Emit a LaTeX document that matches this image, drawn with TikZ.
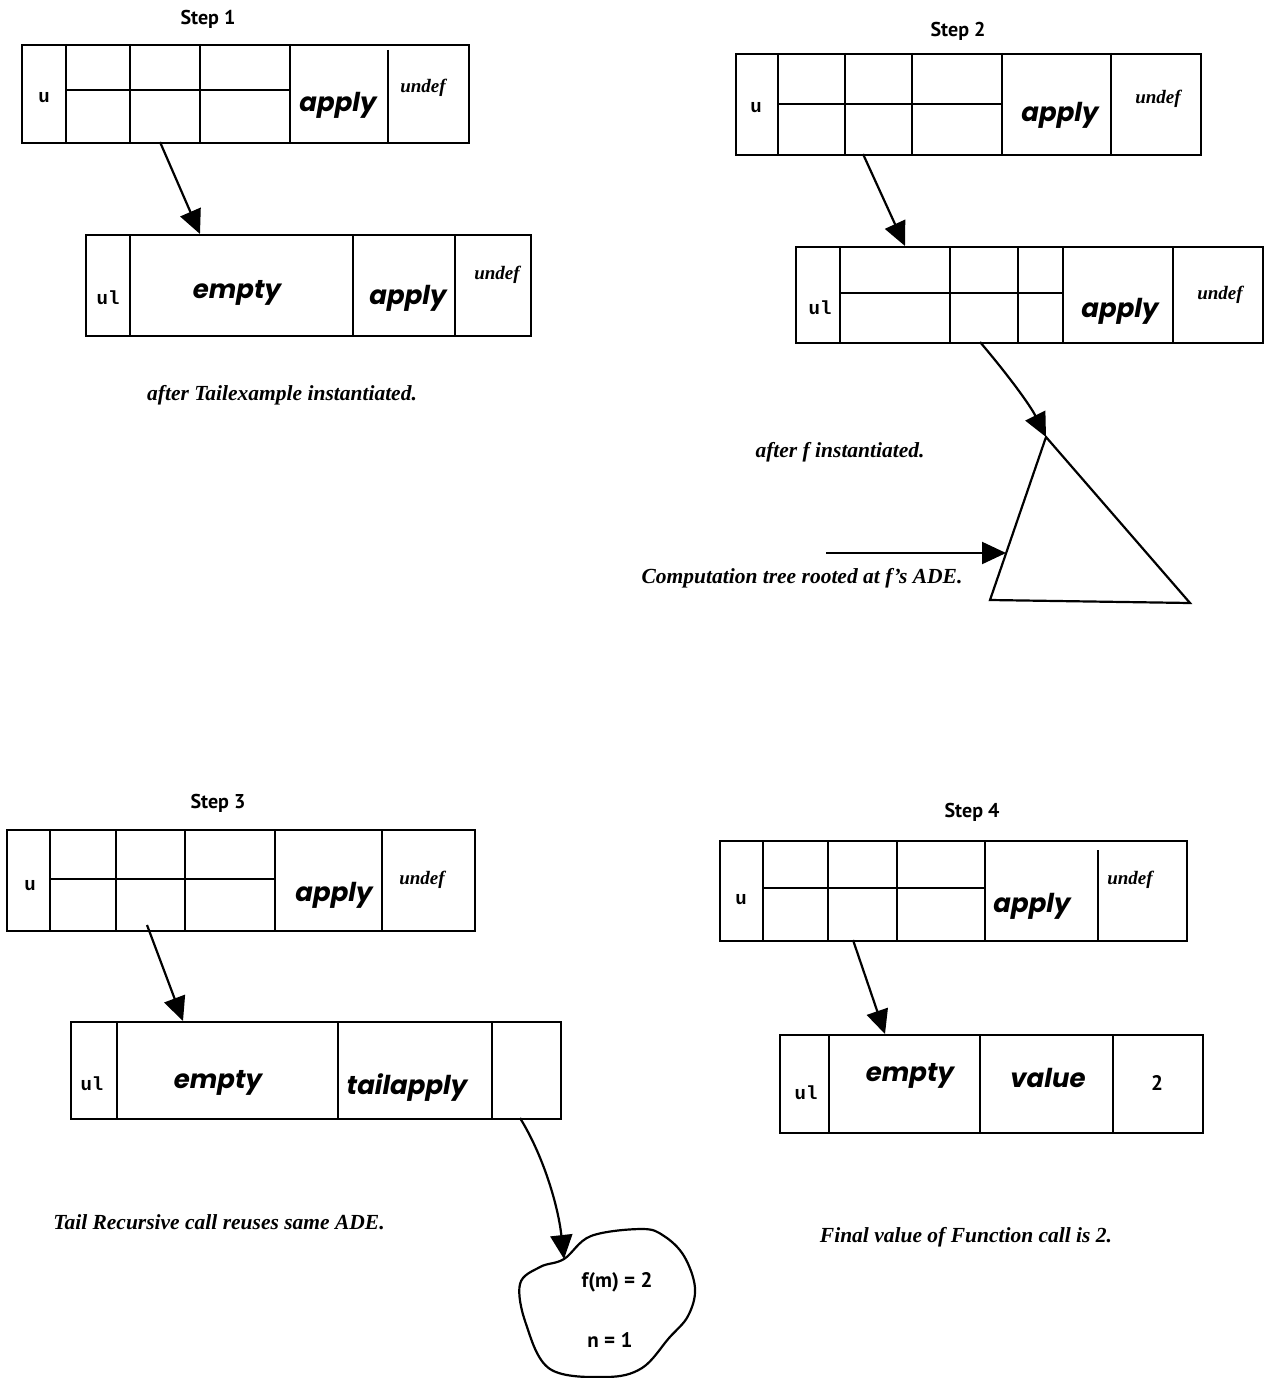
\documentclass[tikz,border=0pt]{standalone}
\usepackage{fontspec}
\setmainfont{Liberation Serif}
\newfontfamily\scrf{Poppins}
\newfontfamily\labf{PT Sans}
\newfontfamily\monof{Liberation Mono}
\usetikzlibrary{arrows.meta}
\begin{document}
\begin{tikzpicture}[x=1pt,y=-1pt,
  ln/.style={line width=2.2pt},
  rec/.style={draw, line width=2.2pt, inner sep=0pt, anchor=north west},
  arr/.style={line width=2.2pt, -{Triangle[width=22pt,length=24pt]}},
  big/.style={font=\scrf\fontsize{26}{26}\selectfont\bfseries\itshape, inner sep=0pt},
  und/.style={font=\fontsize{19}{19}\selectfont\bfseries\itshape, inner sep=0pt},
  var/.style={font=\monof\fontsize{19}{19}\selectfont\bfseries, inner sep=0pt},
  steplbl/.style={font=\labf\fontsize{20}{20}\selectfont\bfseries, inner sep=0pt},
  captxt/.style={font=\fontsize{21.5}{21.5}\selectfont\bfseries\itshape, inner sep=0pt},
  small/.style={font=\labf\fontsize{21}{21}\selectfont\bfseries, inner sep=0pt}
]
\useasboundingbox (0,0) rectangle (1269,1378);

%%%%%%%% Step 1
\node[steplbl] (l1) at (208,19) {Step 1};
\node[rec, minimum width=447pt, minimum height=98pt] (s1a) at (21,44) {};
\draw[ln] (66,44) -- (66,142) (130,44) -- (130,142) (200,44) -- (200,142)
          (290,44) -- (290,142) (388,50) -- (388,142) (66,90) -- (290,90);
\node[var] (s1au) at (44,98) {u};
\node[big] (s1aap) at (338,105) {apply};
\node[und] (s1aun) at (423,88) {undef};
\node[rec, minimum width=445pt, minimum height=101pt] (s1b) at (85,234) {};
\draw[ln] (130,234) -- (130,335) (353,234) -- (353,335) (455,234) -- (455,335);
\node[var] (s1bu) at (108,298) {ul};
\node[big] (s1bem) at (237,293) {empty};
\node[big] (s1bap) at (408,298) {apply};
\node[und] (s1bun) at (497,275) {undef};
\coordinate (s1f) at (160,142);
\coordinate (s1t) at (200,234);
\draw[arr] (s1f) -- (s1t);
\node[captxt] (c1) at (282,395) {after Tailexample instantiated.};

%%%%%%%% Step 2
\node[steplbl] (l2) at (958,31) {Step 2};
\node[rec, minimum width=465pt, minimum height=101pt] (s2a) at (735,53) {};
\draw[ln] (778,53) -- (778,154) (845,53) -- (845,154) (912,53) -- (912,154)
          (1002,53) -- (1002,154) (1111,53) -- (1111,154) (778,104) -- (1002,104);
\node[var] (s2au) at (756,108) {u};
\node[big] (s2aap) at (1060,115) {apply};
\node[und] (s2aun) at (1158,99) {undef};
\node[rec, minimum width=467pt, minimum height=96pt] (s2b) at (795,246) {};
\draw[ln] (840,246) -- (840,342) (950,246) -- (950,342) (1018,246) -- (1018,342)
          (1063,246) -- (1063,342) (1173,246) -- (1173,342) (840,293) -- (1063,293);
\node[var] (s2bu) at (820,308) {ul};
\node[big] (s2bap) at (1120,311) {apply};
\node[und] (s2bun) at (1220,295) {undef};
\coordinate (s2f) at (863,154);
\coordinate (s2t) at (905,246);
\draw[arr] (s2f) -- (s2t);
\coordinate (tA) at (1046,437);
\coordinate (tB) at (990,600);
\coordinate (tC) at (1190,603);
\draw[ln, line join=miter] (tA) -- (tB) -- (tC) -- cycle;
\coordinate (s2g) at (980,342);
\draw[arr] (s2g) .. controls (1008,375) and (1030,405) .. (tA);
\node[captxt] (c2) at (840,452) {after f instantiated.};
\coordinate (ca) at (826,553);
\coordinate (cb) at (1006,553);
\draw[arr] (ca) -- (cb);
\node[captxt] (c3) at (802,578) {Computation tree rooted at f's ADE.};

%%%%%%%% Step 3
\node[steplbl] (l3) at (218,803) {Step 3};
\node[rec, minimum width=468pt, minimum height=101pt] (s3a) at (6,829) {};
\draw[ln] (50,829) -- (50,930) (116,829) -- (116,930) (185,829) -- (185,930)
          (275,829) -- (275,930) (382,829) -- (382,930) (50,879) -- (275,879);
\node[var] (s3au) at (30,886) {u};
\node[big] (s3aap) at (334,895) {apply};
\node[und] (s3aun) at (422,880) {undef};
\node[rec, minimum width=490pt, minimum height=97pt] (s3b) at (70,1021) {};
\draw[ln] (117,1021) -- (117,1118) (338,1021) -- (338,1118) (492,1021) -- (492,1118);
\node[var] (s3bu) at (92,1084) {ul};
\node[big] (s3bem) at (218,1083) {empty};
\node[big] (s3bta) at (407,1088) {tailapply};
\coordinate (s3f) at (147,925);
\coordinate (s3t) at (183,1021);
\draw[arr] (s3f) -- (s3t);
\node[captxt] (c4) at (219,1222) {Tail Recursive call reuses same ADE.};
\coordinate (bl) at (564,1259);
\draw[ln] plot[smooth cycle, tension=0.6] coordinates {(564,1259) (591,1236) (642,1229) (664,1236) (684,1256) (695,1288) (688,1316) (669,1338) (642,1368) (606,1377) (550,1369) (526,1324) (520,1284) (540,1267)};
\coordinate (s3g) at (520,1118);
\draw[arr] (s3g) .. controls (543,1155) and (558,1205) .. (bl);
\node[small] (bt1) at (617,1282) {f(m) = 2};
\node[small] (bt2) at (610,1340) {n = 1};

%%%%%%%% Step 4
\node[steplbl] (l4) at (972,812) {Step 4};
\node[rec, minimum width=467pt, minimum height=100pt] (s4a) at (719,840) {};
\draw[ln] (763,840) -- (763,940) (828,840) -- (828,940) (897,840) -- (897,940)
          (985,840) -- (985,940) (1098,850) -- (1098,940) (763,888) -- (985,888);
\node[var] (s4au) at (741,900) {u};
\node[big] (s4aap) at (1032,906) {apply};
\node[und] (s4aun) at (1130,880) {undef};
\node[rec, minimum width=423pt, minimum height=98pt] (s4b) at (779,1034) {};
\draw[ln] (829,1034) -- (829,1132) (980,1034) -- (980,1132) (1113,1034) -- (1113,1132);
\node[var] (s4bu) at (806,1093) {ul};
\node[big] (s4bem) at (910,1076) {empty};
\node[big] (s4bva) at (1048,1078) {value};
\node[small] (s4b2) at (1157,1083) {2};
\coordinate (s4f) at (853,940);
\coordinate (s4t) at (885,1034);
\draw[arr] (s4f) -- (s4t);
\node[captxt] (c5) at (966,1237) {Final value of Function call is 2.};
\end{tikzpicture}
\end{document}
